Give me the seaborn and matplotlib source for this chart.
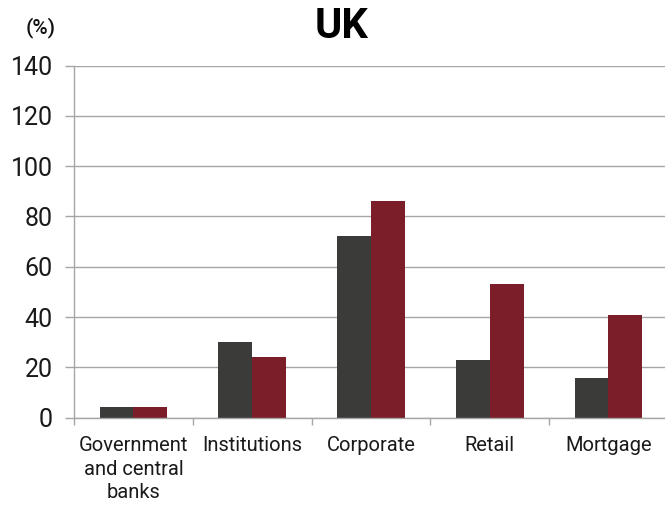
import matplotlib
matplotlib.use("Agg")
import matplotlib.pyplot as plt
import seaborn as sns
import pandas as pd
from matplotlib.ticker import FixedLocator

# Exposure categories and the two series (in %)
categories = ["Government\nand central\nbanks", "Institutions", "Corporate", "Retail", "Mortgage"]
series_names = ["Series 1", "Series 2"]
series_1 = [4.1, 30.1, 72.3, 23.1, 15.9]
series_2 = [4.1, 24.0, 86.3, 53.0, 40.8]
y_ticks = [0, 20, 40, 60, 80, 100, 120, 140]

df = pd.DataFrame({
    "category": categories * 2,
    "series": [series_names[0]] * len(categories) + [series_names[1]] * len(categories),
    "value": series_1 + series_2,
})

sns.set_theme(style="white")
plt.rcParams["font.family"] = ["Roboto", "DejaVu Sans"]

GRID = "#A6A6A6"
palette = {series_names[0]: "#3B3B39", series_names[1]: "#7B1E2A"}

fig = plt.figure(figsize=(6.65, 5.07), dpi=100)
ax = fig.add_axes([0.1113, 0.1761, 0.8929, 0.6947])

sns.barplot(data=df, x="category", y="value", hue="series", order=categories,
            hue_order=series_names, palette=palette, width=0.57,
            linewidth=0, saturation=1, legend=False, ax=ax)

ax.set_xlim(-0.5, len(categories) - 0.5)
ax.set_ylim(0, 140)
ax.set_yticks(y_ticks)
ax.set_xlabel("")
ax.set_ylabel("")

# Horizontal gridlines
ax.yaxis.grid(True, color=GRID, linewidth=1.0)
ax.xaxis.grid(False)
ax.set_axisbelow(True)

for side in ("top", "right"):
    ax.spines[side].set_visible(False)
for side in ("left", "bottom"):
    ax.spines[side].set_color(GRID)
    ax.spines[side].set_linewidth(1.0)

# Category separators as tick marks on the x axis
ax.xaxis.set_minor_locator(FixedLocator([i - 0.5 for i in range(len(categories) + 1)]))
ax.tick_params(axis="x", which="minor", bottom=True, length=5, width=1.0, color=GRID, direction="out")
ax.tick_params(axis="x", which="major", bottom=True, length=0, pad=13, labelsize=14.5, labelcolor="#1A1A1A")
ax.tick_params(axis="y", which="major", left=True, length=6.3, width=1.0, color=GRID,
               direction="out", pad=9, labelsize=18, labelcolor="#1A1A1A")
for lbl in ax.get_xticklabels():
    lbl.set_linespacing(1.32)

fig.text(0.514, 0.9256, "UK", ha="center", va="baseline", fontsize=30, fontweight="bold", color="#000000")
fig.text(0.0614, 0.9458, "(%)", ha="center", va="center", fontsize=15, fontweight="medium", color="#111111")

fig.savefig("out.png", dpi=100)
